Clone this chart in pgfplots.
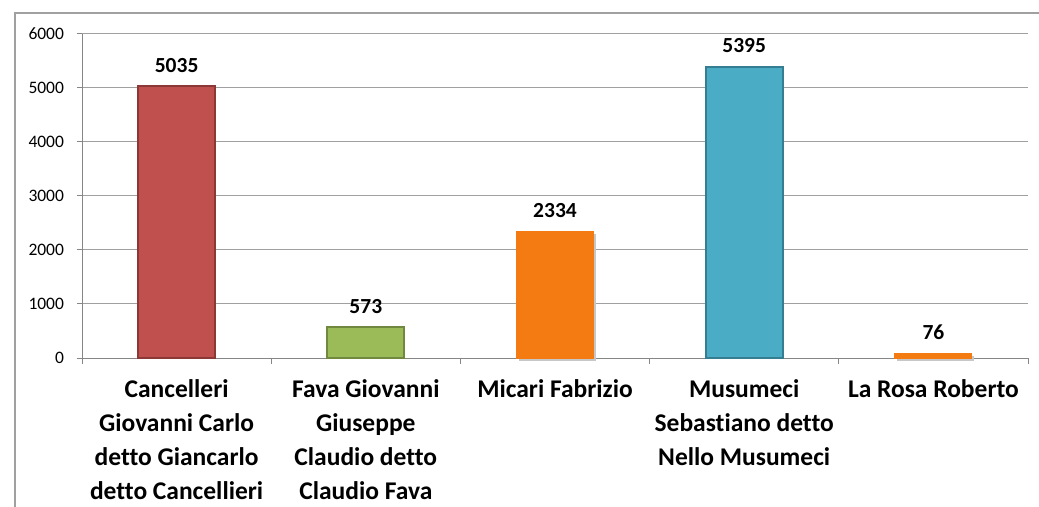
\documentclass[border=0pt]{standalone}
\usepackage{pgfplots}
\pgfplotsset{compat=1.18}
\usepackage{fontspec}
\setmainfont{Carlito}[Ligatures=NoCommon]
\definecolor{cred}{HTML}{C0504D}
\definecolor{credb}{HTML}{8C3836}
\definecolor{cgreen}{HTML}{9BBB59}
\definecolor{cgreenb}{HTML}{71893F}
\definecolor{corange}{HTML}{F47A12}
\definecolor{cblue}{HTML}{4BACC6}
\definecolor{cblueb}{HTML}{357D91}
\definecolor{gridc}{HTML}{A0A0A0}
\definecolor{axc}{HTML}{868686}
\begin{document}
\begin{tikzpicture}
\path[use as bounding box] (0,0) rectangle (1039bp,507bp);
\draw[gridc, line width=1.5bp] (15bp,0) -- (15bp,494bp) -- (1039bp,494bp);
\begin{axis}[
  at={(82bp,149bp)}, anchor=south west,
  scale only axis, width=946bp, height=324bp,
  xmin=-0.5, xmax=4.5, ymin=0, ymax=6000,
  axis lines*=left,
  axis line style={axc, line width=1bp},
  ytick={0,1000,...,6000},
  ymajorgrids, grid style={gridc, line width=1bp},
  xtick={0,1,2,3,4},
  xticklabels={{Cancelleri\\Giovanni Carlo\\detto Giancarlo\\detto Cancellieri},
               {Fava Giovanni\\Giuseppe\\Claudio detto\\Claudio Fava},
               {Micari Fabrizio},
               {Musumeci\\Sebastiano detto\\Nello Musumeci},
               {La Rosa Roberto}},
  minor xtick={-0.5,0.5,...,4.5},
  major x tick style={draw=none},
  minor x tick style={axc, line width=1bp},
  y tick style={axc, line width=1bp},
  tick align=outside,
  major tick length=5bp, minor tick length=6bp,
  /pgf/number format/assume math mode=true,
  /pgf/number format/1000 sep={},
  yticklabel style={font=\fontsize{17.5bp}{20bp}\selectfont, xshift=-9.5bp},
  xticklabel style={font=\fontsize{25.5bp}{34bp}\selectfont\bfseries, align=center, anchor=north, yshift=-13bp},
  ybar, bar width=77bp, bar shift=0pt,
  nodes near coords,
  every node near coord/.append style={font=\fontsize{21.5bp}{24bp}\selectfont\bfseries, anchor=base, inner sep=0pt, yshift=14bp},
  clip=false,
]
\addplot[fill=cred, draw=credb, line width=2bp] coordinates {(0,5035)};
\addplot[fill=cgreen, draw=cgreenb, line width=2bp] coordinates {(1,573)};
\addplot[fill=corange, draw=corange, line width=1bp,
  preaction={fill=black!22, draw=none, transform canvas={xshift=2.5bp, yshift=-2.5bp}}] coordinates {(2,2334)};
\addplot[fill=cblue, draw=cblueb, line width=2bp] coordinates {(3,5395)};
\addplot[fill=corange, draw=corange, line width=1bp,
  preaction={fill=black!22, draw=none, transform canvas={xshift=2.5bp, yshift=-2.5bp}}] coordinates {(4,76)};
\end{axis}
\end{tikzpicture}
\end{document}
